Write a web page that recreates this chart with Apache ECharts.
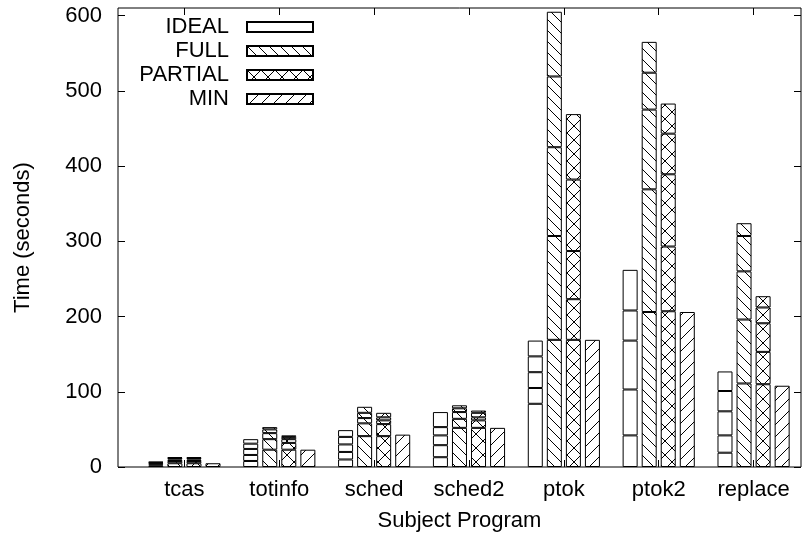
<!DOCTYPE html>
<html>
<head>
<meta charset="utf-8">
<title>Time per subject program</title>
<script src="https://cdn.jsdelivr.net/npm/echarts@6/dist/echarts.min.js"></script>
<style>
  html, body { margin: 0; padding: 0; background: #fff; }
  #chart { width: 812px; height: 543px; }
</style>
</head>
<body>
<div id="chart"></div>
<script>
// Subject programs on the x axis
const categories = ['tcas', 'totinfo', 'sched', 'sched2', 'ptok', 'ptok2', 'replace'];
const configs = ['IDEAL', 'FULL', 'PARTIAL', 'MIN'];
const yTicks = [0, 100, 200, 300, 400, 500, 600];
const yMax = 610;

// Stacked pieces of each bar, bottom to top; one row per piece, one value per program (seconds)
const idealParts = [
  [2, 8, 10, 13, 84, 42, 19],
  [1.5, 8, 10, 16, 21, 61, 23],
  [1.5, 8, 10, 13, 21, 65, 32],
  [1, 7, 10, 11, 21, 40, 27],
  [1, 6, 9, 20, 21, 54, 26]
];
const fullParts = [
  [5, 23, 41, 52, 169, 206, 111],
  [3, 14, 17, 12, 138, 163, 85],
  [2, 8, 7, 9, 118, 106, 64],
  [2, 5, 7, 5, 94, 49, 47],
  [1, 3, 8, 4, 86, 41, 17]
];
const partialParts = [
  [5, 23, 41, 52, 169, 207, 110],
  [3, 9, 16, 10, 54, 86, 43],
  [2, 5, 5, 4, 64, 96, 38],
  [2, 3, 4, 6, 95, 54, 21],
  [1, 2, 6, 3, 87, 40, 15]
];
const minValues = [5, 23, 43, 52, 169, 206, 108];

const FONT = "'Liberation Sans', Arial, Helvetica, sans-serif";

// Hatch fill tiles: 'back' draws "\" strokes, 'fwd' draws "/" strokes
function hatch(size, dirs) {
  const c = document.createElement('canvas');
  c.width = size; c.height = size;
  const g = c.getContext('2d');
  g.fillStyle = '#fff';
  g.fillRect(0, 0, size, size);
  g.strokeStyle = '#000';
  g.lineWidth = 1;
  dirs.forEach(function (d) {
    g.beginPath();
    if (d === 'back') {
      g.moveTo(-1, -1); g.lineTo(size + 1, size + 1);
      g.moveTo(size - 1, -1); g.lineTo(size + 1, 1);
      g.moveTo(-1, size - 1); g.lineTo(1, size + 1);
    } else {
      g.moveTo(-1, size + 1); g.lineTo(size + 1, -1);
      g.moveTo(-1, 1); g.lineTo(1, -1);
      g.moveTo(size - 1, size + 1); g.lineTo(size + 1, size - 1);
    }
    g.stroke();
  });
  return { image: c, repeat: 'repeat' };
}

const fills = {
  IDEAL: '#ffffff',
  FULL: hatch(11, ['back']),
  PARTIAL: hatch(14, ['back', 'fwd']),
  MIN: hatch(12, ['fwd'])
};

function barSeries(name, values) {
  return {
    name: name,
    type: 'bar',
    stack: name,
    xAxisIndex: 0,
    yAxisIndex: 0,
    barWidth: 15,
    barGap: '27%',
    data: values,
    itemStyle: { color: fills[name], borderColor: '#000', borderWidth: 1 },
    emphasis: { disabled: true }
  };
}

const series = [];
idealParts.forEach(function (row) { series.push(barSeries('IDEAL', row)); });
fullParts.forEach(function (row) { series.push(barSeries('FULL', row)); });
partialParts.forEach(function (row) { series.push(barSeries('PARTIAL', row)); });
series.push(barSeries('MIN', minValues));

const tickStyle = { color: '#000', width: 1 };
const titleStyle = { fontFamily: FONT, fontSize: 22, color: '#000' };

const chart = echarts.init(document.getElementById('chart'), null, { renderer: 'canvas' });
chart.setOption({
  animation: false,
  backgroundColor: '#fff',
  textStyle: { fontFamily: FONT, color: '#000' },
  grid: [
    // bar area: one 95px band per program
    { left: 137, right: 11, top: 8, bottom: 76, show: false },
    // plot frame carrying the y scale
    { left: 118, right: 11, top: 8, bottom: 76, show: true, borderColor: '#000', borderWidth: 1, backgroundColor: 'transparent' }
  ],
  legend: {
    data: configs,
    orient: 'vertical',
    align: 'right',
    right: 498,
    top: 16,
    padding: 0,
    itemGap: 2,
    itemWidth: 66,
    itemHeight: 10,
    icon: 'rect',
    selectedMode: false,
    textStyle: { fontFamily: FONT, fontSize: 22, color: '#000', padding: [0, 13, 0, 0] }
  },
  xAxis: [
    {
      type: 'category', gridIndex: 0, position: 'bottom', data: categories,
      axisLine: { show: false, onZero: false },
      splitLine: { show: false },
      axisTick: { show: true, inside: true, length: 7, alignWithLabel: true, lineStyle: tickStyle },
      axisLabel: { fontFamily: FONT, fontSize: 22, color: '#000', margin: 12, interval: 0 },
      // title centred on the whole frame rather than the bar bands
      name: 'Subject Program', nameLocation: 'middle', nameGap: 43,
      nameTextStyle: Object.assign({ padding: [0, 19, 0, 0] }, titleStyle)
    },
    {
      type: 'category', gridIndex: 0, position: 'top', data: categories,
      axisLine: { show: false, onZero: false },
      splitLine: { show: false },
      axisTick: { show: true, inside: true, length: 7, alignWithLabel: true, lineStyle: tickStyle },
      axisLabel: { show: false }
    },
    {
      type: 'value', gridIndex: 1, min: 0, max: 1, show: false
    }
  ],
  yAxis: [
    {
      type: 'value', gridIndex: 0, min: 0, max: yMax, show: false
    },
    {
      type: 'value', gridIndex: 1, position: 'left', min: 0, max: yMax,
      axisLine: { show: false, onZero: false },
      splitLine: { show: false },
      axisTick: { show: true, inside: true, length: 7, customValues: yTicks, lineStyle: tickStyle },
      axisLabel: { customValues: yTicks, fontFamily: FONT, fontSize: 22, color: '#000', margin: 16 },
      name: 'Time (seconds)', nameLocation: 'middle', nameGap: 84, nameRotate: 90,
      nameTextStyle: titleStyle
    },
    {
      type: 'value', gridIndex: 1, position: 'right', min: 0, max: yMax,
      axisLine: { show: false, onZero: false },
      splitLine: { show: false },
      axisTick: { show: true, inside: true, length: 7, customValues: yTicks, lineStyle: tickStyle },
      axisLabel: { show: false }
    }
  ],
  series: series
});
</script>
</body>
</html>
